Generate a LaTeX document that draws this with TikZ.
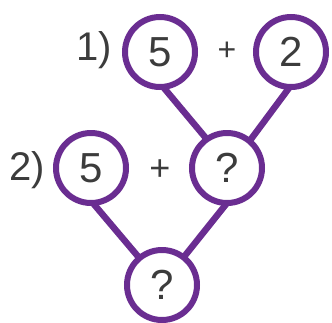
\documentclass[tikz,border=0pt]{standalone}
\usepackage{fontspec}
\setmainfont{Liberation Sans}
\definecolor{pur}{RGB}{106,45,145}
\definecolor{txt}{RGB}{60,60,60}
\begin{document}
\begin{tikzpicture}[x=1pt,y=-1pt,
  ball/.style={circle,draw=pur,line width=6pt,minimum size=70pt,inner sep=0pt,outer sep=0pt,font=\fontsize{42}{42}\selectfont,text=txt},
  lbl/.style={font=\fontsize{40}{40}\selectfont,text=txt,inner sep=0pt},
  link/.style={draw=pur,line width=6.5pt}]
\useasboundingbox (0,0) rectangle (332,322);
\node[ball] (A) at (160,52) {5};
\node[ball] (B) at (291,52) {2};
\node[ball] (C) at (227,168) {?};
\node[ball] (D) at (91,168) {5};
\node[ball] (E) at (162,285) {?};
\node[lbl] (l1) at (94,50) {1)};
\node[lbl,font=\fontsize{32}{32}\selectfont] (p1) at (227,51) {+};
\node[lbl] (l2) at (27,170) {2)};
\node[lbl,font=\fontsize{36}{36}\selectfont] (p2) at (160,170) {+};
\draw[link] (A.-85) -- (C.125);
\draw[link] (B.-92) -- (C.50);
\draw[link] (D.-87) -- (E.130);
\draw[link] (C.-90) -- (E.52);
\end{tikzpicture}
\end{document}
